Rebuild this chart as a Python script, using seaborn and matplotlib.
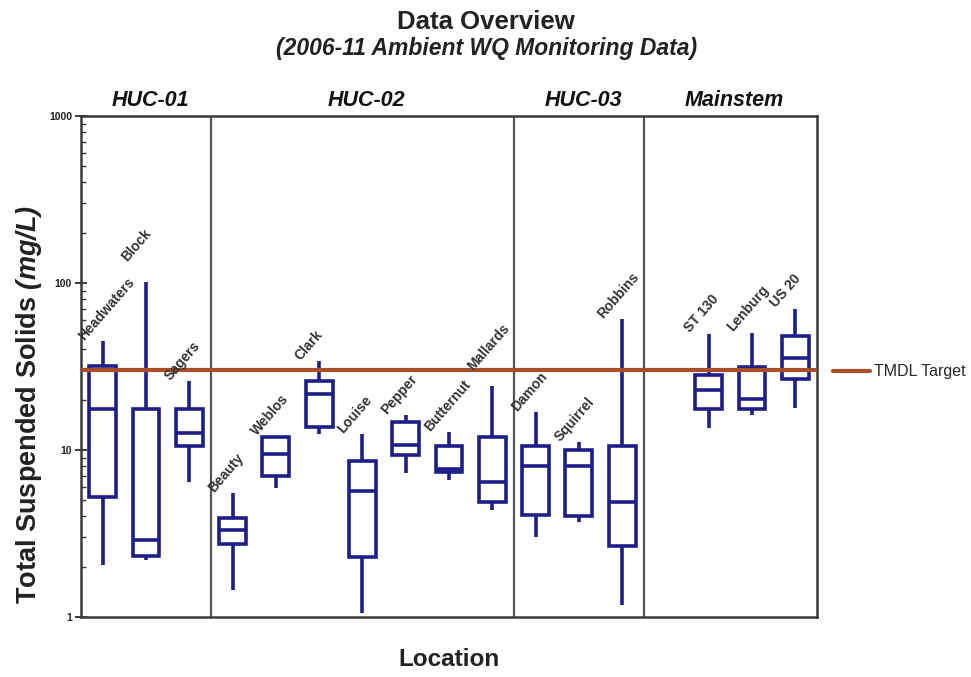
import numpy as np
import pandas as pd
import matplotlib
matplotlib.use("Agg")
import matplotlib.pyplot as plt
import matplotlib.transforms as mtransforms
from matplotlib.lines import Line2D
from matplotlib.ticker import LogLocator, FixedLocator, FixedFormatter, NullFormatter
import seaborn as sns

# Monitoring sites (blank entry leaves a gap before the mainstem sites)
sites = ["Headwaters", "Block", "Sagers",
         "Beauty", "Weblos", "Clark", "Louise", "Pepper", "Butternut", "Mallards",
         "Damon", "Squirrel", "Robbins",
         " ",
         "ST 130", "Lenburg", "US 20"]

# Five-number summaries of TSS (mg/L) per site: whisker low, Q1, median, Q3, whisker high
whisker_low = [2.05, 2.2, 6.4, 1.45, 5.9, 12.4, 1.05, 7.3, 6.6, 4.4, 3.0, 3.7, 1.18, None, 13.6, 16.3, 17.9]
q1 = [5.2, 2.32, 10.6, 2.74, 7.0, 13.7, 2.3, 9.3, 7.4, 4.9, 4.1, 4.0, 2.68, None, 17.5, 17.5, 26.7]
median = [17.6, 2.9, 12.6, 3.33, 9.5, 21.7, 5.7, 10.7, 7.7, 6.4, 8.0, 8.0, 4.9, None, 23.0, 20.2, 35.6]
q3 = [31.7, 17.6, 17.6, 3.91, 12.0, 26.0, 8.55, 14.7, 10.5, 12.0, 10.6, 10.0, 10.6, None, 28.3, 31.3, 48.0]
whisker_high = [44.8, 102.0, 25.8, 5.5, 12.1, 34.0, 12.4, 16.1, 12.8, 24.3, 16.8, 11.1, 60.5, None, 49.7, 50.4, 70.2]

# Watershed groupings: name, first and last site index
groups = ["HUC-01", "HUC-02", "HUC-03", "Mainstem"]
group_first = [0, 3, 10, 13]
group_last = [2, 9, 12, 16]

tmdl_target = 30.0
y_ticks = [1, 10, 100, 1000]
y_tick_labels = ["1", "10", "100", "1000"]

# Long-form table: five values per site reproduce each box exactly
rows = []
for i, s in enumerate(sites):
    if median[i] is None:
        continue
    for v in (whisker_low[i], q1[i], median[i], q3[i], whisker_high[i]):
        rows.append({"site": s, "tss": v})
df = pd.DataFrame(rows)

sns.set_theme(style="ticks")
plt.rcParams["font.family"] = ["Liberation Sans", "DejaVu Sans"]
plt.rcParams["mathtext.fontset"] = "custom"
plt.rcParams["mathtext.rm"] = "Liberation Sans"
plt.rcParams["mathtext.bf"] = "Liberation Sans:bold"
plt.rcParams["mathtext.it"] = "Liberation Sans:italic"
plt.rcParams["mathtext.bfit"] = "Liberation Sans:bold:italic"

box_color = "#1e1e8a"
line_color = "#a84f2a"
frame_color = "#3a3a3a"

fig = plt.figure(figsize=(9.71, 6.77), dpi=100)
ax = fig.add_axes([0.0834, 0.0886, 0.7580, 0.7401])

sns.boxplot(data=df, x="site", y="tss", order=sites, ax=ax,
            log_scale=True, whis=(0, 100), width=0.62,
            color="white", linecolor=box_color, linewidth=2.6,
            showcaps=False, showfliers=False, saturation=1)

ax.set_xlim(-0.5, len(sites) - 0.5)
ax.set_ylim(1, 1000)

# Watershed dividers
for last in group_last[:-1]:
    ax.axvline(last + 0.5, color="#555555", lw=1.6, zorder=1)

# TMDL target line
ax.axhline(tmdl_target, color=line_color, lw=3, zorder=5)
fig.legend(handles=[Line2D([], [], color=line_color, lw=3)], labels=["TMDL Target"],
           loc="center left", bbox_to_anchor=(0.858, (677 - 371.7) / 677),
           frameon=False, borderpad=0, borderaxespad=0, handlelength=2.3,
           handletextpad=0.25, fontsize=11.5)

# Site names above the upper whiskers; a few are lifted to clear their neighbours
label_lift = {"Block": 14, "Mallards": 10}
for i, s in enumerate(sites):
    if median[i] is None:
        continue
    ax.annotate(s, xy=(i, whisker_high[i]), xytext=(-12, -1 + label_lift.get(s, 0)),
                textcoords="offset points",
                rotation=49, rotation_mode="anchor", ha="left", va="bottom",
                fontsize=10, fontweight="bold", color="#333333", zorder=6)

# Group headings
trans = mtransforms.blended_transform_factory(ax.transData, ax.transAxes)
for g, a, b in zip(groups, group_first, group_last):
    ax.text((a + b) / 2 + 0.1, 1.01, g, transform=trans, ha="center", va="bottom",
            fontsize=15.5, fontweight="bold", fontstyle="italic", color="#111111")

# Axes styling
for sp in ax.spines.values():
    sp.set_visible(True)
    sp.set_color(frame_color)
    sp.set_linewidth(1.8)
ax.yaxis.set_major_locator(FixedLocator(y_ticks))
ax.yaxis.set_major_formatter(FixedFormatter(y_tick_labels))
ax.yaxis.set_minor_locator(LogLocator(base=10, subs=np.arange(2, 10)))
ax.yaxis.set_minor_formatter(NullFormatter())
ax.tick_params(axis="y", which="major", direction="inout", length=9, width=1.4,
               colors=frame_color, labelsize=7.5, pad=2)
ax.tick_params(axis="y", which="minor", direction="in", length=3.5, width=1.0, colors=frame_color)
for lbl in ax.get_yticklabels():
    lbl.set_fontweight("bold")
    lbl.set_color("#222222")
ax.tick_params(axis="x", which="both", bottom=False, labelbottom=False)
ax.set_xlabel("")
ax.set_ylabel(r"Total Suspended Solids $\mathbfit{(mg/L)}$", fontsize=19.5,
              fontweight="bold", color="#222222")
ax.yaxis.set_label_coords(-0.050, 0.425)
ax.text(0.5, -0.084, "Location", transform=ax.transAxes, ha="center", va="center",
        fontsize=17.5, fontweight="bold", color="#222222")

# Titles
fig.text(486 / 971, 1 - 22 / 677, "Data Overview", ha="center", va="center",
         fontsize=18.5, fontweight="bold", color="#222222")
fig.text(487 / 971, 1 - 48 / 677, "(2006-11 Ambient WQ Monitoring Data)", ha="center",
         va="center", fontsize=16.5, fontweight="bold", fontstyle="italic", color="#222222")

fig.savefig("out.png", dpi=100, facecolor="white")
